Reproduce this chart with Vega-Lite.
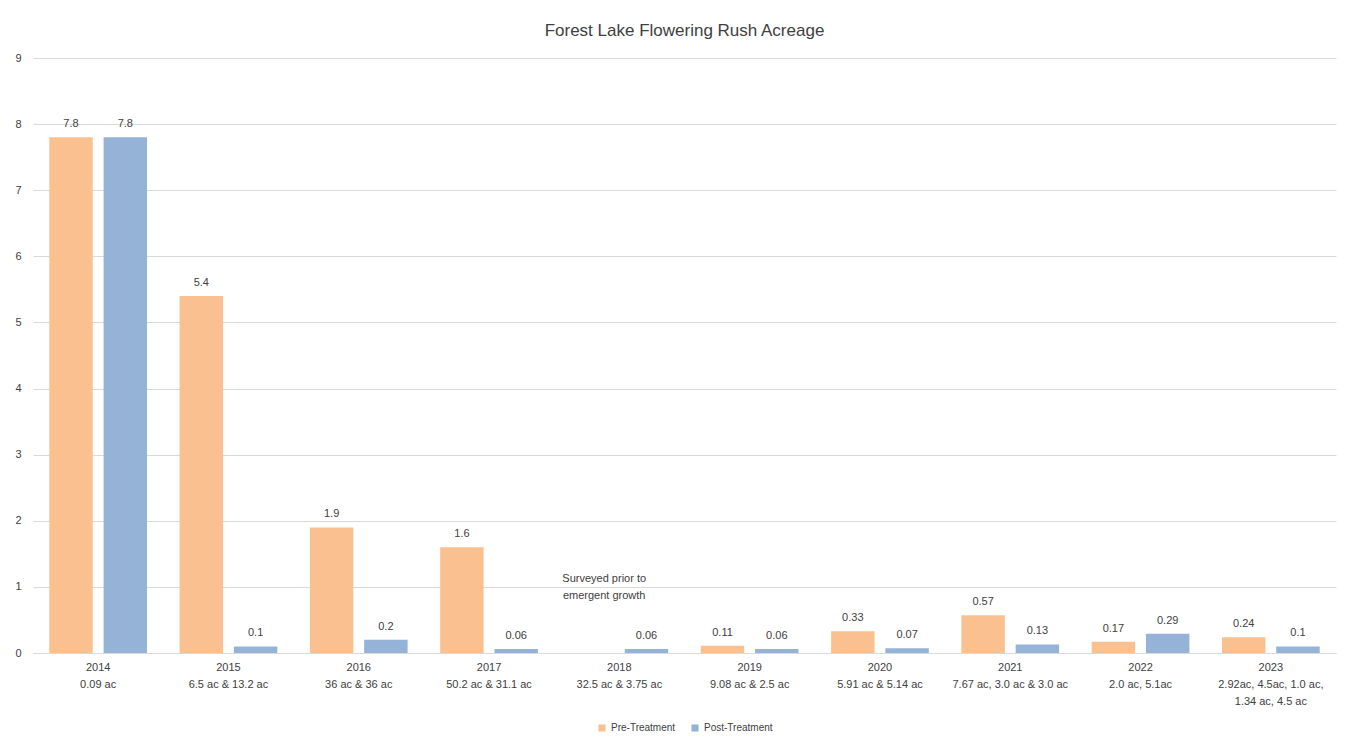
{
  "$schema": "https://vega.github.io/schema/vega-lite/v6.json",
  "width": 1366,
  "height": 746,
  "autosize": {"type": "fit", "contains": "padding"},
  "padding": {"left": 14, "right": 30, "top": 22, "bottom": 13},
  "background": "white",
  "title": {"text": "Forest Lake Flowering Rush Acreage", "fontSize": 17, "font": "Liberation Sans", "fontWeight": "normal", "color": "#404040", "offset": 12},
  "data": {"values": [
    {"cat": "2014|0.09 ac", "series": "Pre-Treatment", "value": 7.8},
    {"cat": "2014|0.09 ac", "series": "Post-Treatment", "value": 7.8},
    {"cat": "2015|6.5 ac & 13.2 ac", "series": "Pre-Treatment", "value": 5.4},
    {"cat": "2015|6.5 ac & 13.2 ac", "series": "Post-Treatment", "value": 0.1},
    {"cat": "2016|36 ac & 36 ac", "series": "Pre-Treatment", "value": 1.9},
    {"cat": "2016|36 ac & 36 ac", "series": "Post-Treatment", "value": 0.2},
    {"cat": "2017|50.2 ac & 31.1 ac", "series": "Pre-Treatment", "value": 1.6},
    {"cat": "2017|50.2 ac & 31.1 ac", "series": "Post-Treatment", "value": 0.06},
    {"cat": "2018|32.5 ac & 3.75 ac", "series": "Pre-Treatment", "value": null, "note": ["Surveyed prior to", "emergent growth"]},
    {"cat": "2018|32.5 ac & 3.75 ac", "series": "Post-Treatment", "value": 0.06},
    {"cat": "2019|9.08 ac & 2.5 ac", "series": "Pre-Treatment", "value": 0.11},
    {"cat": "2019|9.08 ac & 2.5 ac", "series": "Post-Treatment", "value": 0.06},
    {"cat": "2020|5.91 ac & 5.14 ac", "series": "Pre-Treatment", "value": 0.33},
    {"cat": "2020|5.91 ac & 5.14 ac", "series": "Post-Treatment", "value": 0.07},
    {"cat": "2021|7.67 ac, 3.0 ac & 3.0 ac", "series": "Pre-Treatment", "value": 0.57},
    {"cat": "2021|7.67 ac, 3.0 ac & 3.0 ac", "series": "Post-Treatment", "value": 0.13},
    {"cat": "2022|2.0 ac, 5.1ac", "series": "Pre-Treatment", "value": 0.17},
    {"cat": "2022|2.0 ac, 5.1ac", "series": "Post-Treatment", "value": 0.29},
    {"cat": "2023|2.92ac, 4.5ac, 1.0 ac,|1.34 ac, 4.5 ac", "series": "Pre-Treatment", "value": 0.24},
    {"cat": "2023|2.92ac, 4.5ac, 1.0 ac,|1.34 ac, 4.5 ac", "series": "Post-Treatment", "value": 0.1}
  ]},
  "encoding": {
    "x": {"field": "cat", "type": "nominal", "sort": null,
      "scale": {"paddingInner": 0.25, "paddingOuter": 0.125},
      "axis": {"title": null, "labelAngle": 0, "labelExpr": "split(datum.label, '|')", "labelPadding": 8, "labelLineHeight": 17, "labelFontSize": 11, "labelFont": "Liberation Sans", "labelColor": "#404040", "ticks": false, "domainColor": "#D9D9D9", "labelLimit": 200}},
    "xOffset": {"field": "series", "type": "nominal", "sort": ["Pre-Treatment", "Post-Treatment"], "scale": {"paddingInner": 0.2, "paddingOuter": 0}}
  },
  "layer": [
    {
      "mark": {"type": "bar"},
      "encoding": {
        "y": {"field": "value", "type": "quantitative", "scale": {"domain": [0, 9]},
          "axis": {"title": null, "values": [0,1,2,3,4,5,6,7,8,9], "format": "d", "domain": false, "ticks": false, "gridColor": "#D9D9D9", "labelFontSize": 11, "labelFont": "Liberation Sans", "labelColor": "#404040", "labelPadding": 12}},
        "color": {"field": "series", "type": "nominal",
          "scale": {"domain": ["Pre-Treatment", "Post-Treatment"], "range": ["#FAC090", "#95B3D7"]},
          "legend": {"title": null, "orient": "bottom", "direction": "horizontal", "symbolType": "square", "symbolSize": 50, "labelFontSize": 10, "labelFont": "Liberation Sans", "labelColor": "#404040", "offset": 17, "columnPadding": 14, "symbolStrokeWidth": 0}}
      }
    },
    {
      "mark": {"type": "text", "dy": -8, "fontSize": 11, "font": "Liberation Sans", "color": "#404040", "baseline": "bottom"},
      "encoding": {
        "y": {"field": "value", "type": "quantitative"},
        "text": {"field": "value", "type": "quantitative"}
      }
    },
    {
      "transform": [{"filter": "datum.note != null"}],
      "mark": {"type": "text", "fontSize": 11, "font": "Liberation Sans", "color": "#404040", "align": "center", "baseline": "middle", "dx": 12, "dy": -8, "lineHeight": 17},
      "encoding": {
        "y": {"datum": 1.0, "type": "quantitative"},
        "text": {"field": "note"}
      }
    }
  ],
  "config": {"view": {"stroke": null}, "legend": {"layout": {"bottom": {"anchor": "middle"}}}}
}
